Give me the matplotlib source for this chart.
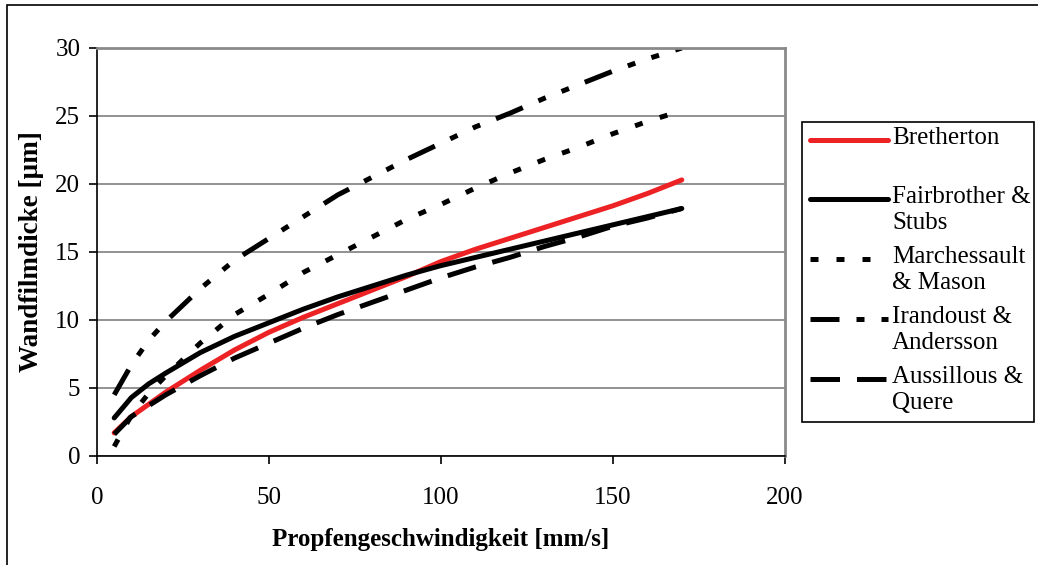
import matplotlib
matplotlib.use("Agg")
import matplotlib.pyplot as plt
from matplotlib.lines import Line2D
from matplotlib.patches import Rectangle

# plug velocity [mm/s]
speed = [5, 10, 15, 20, 30, 40, 50, 60, 70, 80, 90, 100, 110, 120, 130, 140, 150, 160, 170]

# wall film thickness [um] per model
bretherton = [1.7, 2.9, 3.8, 4.7, 6.3, 7.8, 9.1, 10.2, 11.2, 12.2, 13.2, 14.3, 15.2, 16.0, 16.8, 17.6, 18.4, 19.3, 20.3]
fairbrother = [2.8, 4.3, 5.3, 6.1, 7.6, 8.8, 9.8, 10.8, 11.7, 12.5, 13.3, 14.0, 14.6, 15.2, 15.8, 16.4, 17.0, 17.6, 18.2]
marchessault = [0.7, 3.0, 4.6, 5.9, 8.3, 10.4, 11.9, 13.5, 14.8, 16.1, 17.4, 18.5, 19.7, 20.8, 21.8, 22.7, 23.7, 24.6, 25.4]
irandoust = [4.5, 6.7, 8.5, 9.9, 12.3, 14.4, 16.0, 17.6, 19.2, 20.5, 21.8, 23.0, 24.2, 25.2, 26.3, 27.3, 28.3, 29.2, 30.0]
aussillous = [1.6, 2.9, 3.7, 4.5, 5.9, 7.2, 8.3, 9.4, 10.4, 11.3, 12.2, 13.1, 13.9, 14.6, 15.4, 16.1, 16.9, 17.5, 18.2]

labels = ["Bretherton", "Fairbrother &\nStubs", "Marchessault\n& Mason",
          "Irandoust &\nAndersson", "Aussillous &\nQuere"]

serif = ["Liberation Serif", "DejaVu Serif"]
LW = 3.6
RED = "#ED2224"

# (color, dash pattern in linewidth units)
styles = [
    (RED, None),
    ("black", None),
    ("black", (0, (1.6, 3.6))),
    ("black", (0, (5.8, 3.4, 1.6, 3.4, 1.6, 3.4))),
    ("black", (0, (5.9, 3.4))),
]
series = [bretherton, fairbrother, marchessault, irandoust, aussillous]

fig = plt.figure(figsize=(10.38, 5.65), dpi=100)
ax = fig.add_axes([97 / 1038, 109 / 565, 688 / 1038, 408 / 565])

for (color, dash), ys in zip(styles, series):
    kw = dict(color=color, lw=LW, solid_capstyle="round", dash_capstyle="butt")
    if dash is not None:
        kw["linestyle"] = dash
    ax.plot(speed, ys, **kw)

ax.set_xlim(0, 200)
ax.set_ylim(0, 30)
ax.set_xticks([0, 50, 100, 150, 200])
ax.set_yticks([0, 5, 10, 15, 20, 25, 30])
ax.yaxis.grid(True, color="#7f7f7f", lw=1.2)
ax.set_axisbelow(True)

for side in ["top", "right"]:
    ax.spines[side].set_color("#8a8a8a")
    ax.spines[side].set_linewidth(2)
for side in ["left", "bottom"]:
    ax.spines[side].set_color("black")
    ax.spines[side].set_linewidth(1.2)

ax.tick_params(axis="y", direction="out", length=6, width=1.2, pad=6)
ax.tick_params(axis="x", direction="out", length=6, width=1.2, pad=16)
for t in ax.get_xticklabels() + ax.get_yticklabels():
    t.set_family(serif)
    t.set_fontsize(18)

ax.set_xlabel("Propfengeschwindigkeit [mm/s]", family=serif, fontsize=18,
              fontweight="bold", labelpad=14)
ax.set_ylabel("Wandfilmdicke [µm]", family=serif, fontsize=19.5,
              fontweight="bold", labelpad=8)

# legend box drawn in pixel-based figure coords
W, H = 1038, 565
def fx(px):
    return px / W
def fy(py):
    return 1 - py / H

fig.patches.append(Rectangle((fx(802), fy(422)), fx(1034) - fx(802), fy(122) - fy(422),
                             transform=fig.transFigure, fill=False, ec="black", lw=1.2))
row_y = [140, 199, 259, 319, 379]
for (color, dash), lab, y in zip(styles, labels, row_y):
    kw = dict(color=color, lw=LW, solid_capstyle="round", dash_capstyle="butt",
              transform=fig.transFigure)
    if dash is not None:
        kw["linestyle"] = dash
    fig.lines.append(Line2D([fx(810), fx(888)], [fy(y), fy(y)], **kw))
    fig.text(fx(892), fy(y - 13), lab, family=serif, fontsize=18, va="top",
             ha="left", linespacing=1.25)

# outer frame (top and left edges visible)
fig.patches.append(Rectangle((fx(7), -0.1), 1.2, fy(5) + 0.1, transform=fig.transFigure,
                             fill=False, ec="black", lw=1.2))

fig.savefig("out.png", dpi=100)
